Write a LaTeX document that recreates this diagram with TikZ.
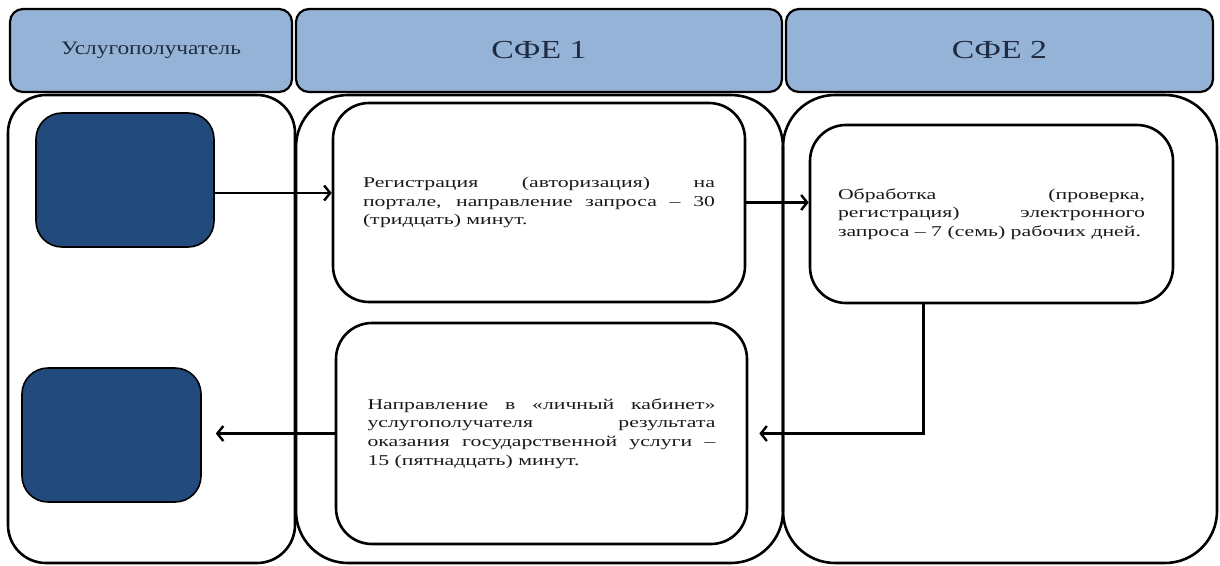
\documentclass[tikz,border=0pt]{standalone}
\usepackage{fontspec}
\usepackage{graphicx}
\setmainfont{Liberation Serif}
\usetikzlibrary{arrows.meta,calc}
\definecolor{hdr}{HTML}{95B3D7}
\definecolor{dark}{HTML}{224A7D}
\definecolor{txt}{HTML}{1A1A1A}
\definecolor{hdrtxt}{HTML}{1E2B40}
% wide text: #1 = final width (pt), #2 = text
\newcommand\widepar[2]{\scalebox{1.45}[1]{\parbox{\dimexpr #1pt/145*100\relax}{\fontsize{15}{18.6}\selectfont #2}}}
\newcommand\widehdr[2]{\scalebox{#1}[1]{#2}}
\begin{document}
\begin{tikzpicture}[x=1pt,y=-1pt,
  hdrbox/.style={draw=black, line width=2.2pt, fill=hdr, rounded corners=13pt, inner sep=0pt, text=hdrtxt},
  lane/.style={draw=black, line width=2.6pt, rounded corners=#1, inner sep=0pt},
  darkbox/.style={draw=black, line width=1.6pt, fill=dark, rounded corners=26pt, inner sep=0pt},
  procbox/.style={draw=black, line width=2.6pt, fill=white, rounded corners=36pt, inner sep=0pt, text=txt},
  arr/.style={line width=2.4pt, -{Straight Barb[length=6pt,width=15pt,line width=2.4pt]}}
]
\useasboundingbox (0,0) rectangle (1220,565);

% headers
\node[hdrbox, minimum width=282, minimum height=83, font=\fontsize{19}{22}\selectfont] (h1) at (151,50.5) {\widehdr{1.23}{Услугополучатель}};
\node[hdrbox, minimum width=486, minimum height=83, font=\fontsize{26}{30}\selectfont] (h2) at (539,50.5) {\widehdr{1.3}{СФЕ 1}};
\node[hdrbox, minimum width=427, minimum height=83, font=\fontsize{26}{30}\selectfont] (h3) at (999.5,50.5) {\widehdr{1.3}{СФЕ 2}};

% lanes
\node[lane=38pt, minimum width=287, minimum height=468] (l1) at (151.5,329) {};
\node[lane=52pt, minimum width=487, minimum height=468] (l2) at (539.5,329) {};
\node[lane=52pt, minimum width=434, minimum height=468] (l3) at (1000,329) {};

% dark boxes
\node[darkbox, minimum width=178, minimum height=134] (d1) at (125,180) {};
\node[darkbox, minimum width=179, minimum height=134] (d2) at (111.5,435) {};

% process boxes
\node[procbox, minimum width=412, minimum height=199] (b1) at (539,202.5)
  {\widepar{352}{Регистрация (авторизация) на\linebreak портале, направление запроса – 30\linebreak (тридцать) минут.}};
\node[procbox, minimum width=363, minimum height=178] (b3) at (991.5,214)
  {\widepar{307}{Обработка (проверка,\linebreak регистрация) электронного\linebreak запроса – 7 (семь) рабочих дней.}};
\node[procbox, minimum width=411, minimum height=221] (b4) at (541.5,433.5)
  {\widepar{348}{Направление в «личный кабинет»\linebreak услугополучателя результата\linebreak оказания государственной услуги –\linebreak 15 (пятнадцать) минут.}};

% connectors
\coordinate (a1) at ($(d1.east)+(0,13)$);
\draw[arr] (a1) -- (a1 -| b1.west);
\draw[arr] (b1.east) -- (b1.east -| b3.west);
\coordinate (c3) at ($(b3.south)+(-68,0)$);
\draw[arr, shorten >=11pt] (c3) |- (b4.east);
\draw[arr, shorten >=14pt] (b4.west) -- (b4.west -| d2.east);
\end{tikzpicture}
\end{document}
